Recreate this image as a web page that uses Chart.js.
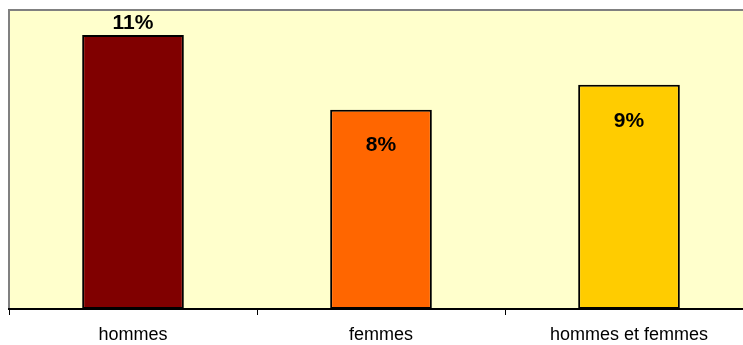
<!DOCTYPE html>
<html>
<head>
<meta charset="utf-8">
<script src="https://cdn.jsdelivr.net/npm/chart.js@4/dist/chart.umd.min.js"></script>
<style>
  html, body { margin: 0; padding: 0; background: #ffffff; overflow: hidden; }
  #wrap { width: 760px; height: 345px; }
</style>
</head>
<body>
<div id="wrap"><canvas id="c" width="760" height="345"></canvas></div>
<script>
// Share per group, in percent
const categories = ['hommes', 'femmes', 'hommes et femmes'];
const values = [11, 8, 9];
const barColors = ['#800000', '#FF6600', '#FFCC00'];
const valueLabels = ['11%', '8%', '9%'];
const labelPlacement = ['above', 'inside', 'inside'];

const FONT = '"Liberation Sans", Arial, Helvetica, sans-serif';

// Pale yellow plot area with a grey frame
const plotFrame = {
  id: 'plotFrame',
  beforeDraw(chart) {
    const { ctx, chartArea: a } = chart;
    ctx.save();
    ctx.fillStyle = '#FFFFCC';
    ctx.fillRect(a.left, a.top, a.right - a.left, a.bottom - a.top);
    ctx.strokeStyle = '#808080';
    ctx.lineWidth = 2;
    ctx.strokeRect(a.left, a.top, a.right - a.left, a.bottom - a.top);
    ctx.restore();
  }
};

// Percentage labels: above the first bar, inside the others
const valueText = {
  id: 'valueText',
  afterDatasetsDraw(chart) {
    const { ctx } = chart;
    const meta = chart.getDatasetMeta(0);
    ctx.save();
    ctx.font = 'bold 21px ' + FONT;
    ctx.fillStyle = '#000000';
    ctx.textAlign = 'center';
    ctx.textBaseline = 'middle';
    meta.data.forEach((bar, i) => {
      const y = labelPlacement[i] === 'above' ? bar.y - 12 : bar.y + 36;
      ctx.fillText(valueLabels[i], bar.x, y);
    });
    ctx.restore();
  }
};

new Chart(document.getElementById('c'), {
  type: 'bar',
  data: {
    labels: categories,
    datasets: [{
      data: values,
      backgroundColor: barColors,
      borderColor: '#000000',
      borderWidth: 2,
      borderSkipped: false,
      categoryPercentage: 1,
      barPercentage: 0.41
    }]
  },
  options: {
    responsive: false,
    animation: false,
    layout: { padding: { left: 9, top: 10, right: 7, bottom: 0 } },
    plugins: { legend: { display: false }, tooltip: { enabled: false } },
    scales: {
      y: { display: false, min: 0, max: 12 },
      x: {
        afterFit(scale) { scale.height = 36; },
        border: { display: true, color: '#000000', width: 2 },
        grid: {
          offset: true,
          drawOnChartArea: false,
          drawTicks: true,
          tickLength: 6,
          color: '#000000',
          lineWidth: 1
        },
        ticks: {
          color: '#000000',
          padding: 9,
          font: { family: FONT, size: 18 }
        }
      }
    }
  },
  plugins: [plotFrame, valueText]
});
</script>
</body>
</html>
